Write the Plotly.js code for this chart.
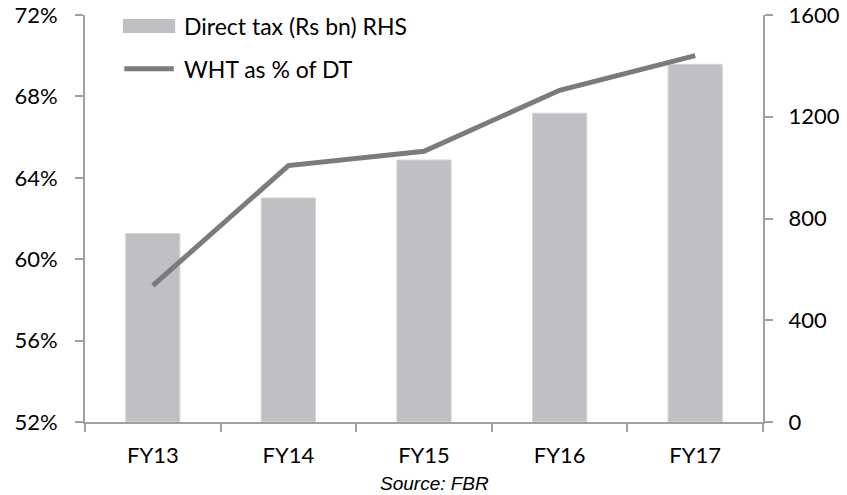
<!DOCTYPE html>
<html>
<head>
<meta charset="utf-8">
<script src="https://cdn.plot.ly/plotly-3.0.1.min.js"></script>
<style>html,body{margin:0;padding:0;background:#fff;}#chart{width:847px;height:495px;}</style>
</head>
<body>
<div id="chart"></div>
<script>
const categories = ['FY13', 'FY14', 'FY15', 'FY16', 'FY17'];
const directTax = [741, 881, 1030, 1214, 1406];
const whtShare = [58.7, 64.6, 65.3, 68.3, 70.0];
const leftTicks = [52, 56, 60, 64, 68, 72];
const rightTicks = [0, 400, 800, 1200, 1600];
const barName = 'Direct tax (Rs bn) RHS';
const lineName = 'WHT as % of DT';
const sourceText = 'Source: FBR';

const axisColor = '#a0a0a2';
const barColor = '#bfc0c3';
const lineColor = '#7a7b7e';
const font = {family: 'Lato, "Open Sans", sans-serif', size: 22, color: '#000'};

const traces = [
  {
    type: 'bar', x: categories, y: directTax, name: barName,
    marker: {color: barColor, line: {color: '#d4d5d7', width: 1}},
    width: 0.4, yaxis: 'y', showlegend: false, hoverinfo: 'skip'
  },
  {
    type: 'scatter', mode: 'lines', x: categories, y: whtShare, name: lineName,
    line: {color: lineColor, width: 5}, yaxis: 'y2', showlegend: false, hoverinfo: 'skip'
  }
];

const layout = {
  width: 847, height: 495,
  margin: {l: 85, r: 84, t: 15, b: 73},
  paper_bgcolor: '#fff', plot_bgcolor: '#fff',
  font: font,
  showlegend: false,
  xaxis: {
    type: 'category', tickson: 'boundaries', ticks: 'outside', ticklen: 8, tickwidth: 2,
    tickcolor: axisColor, showline: true, linecolor: axisColor, linewidth: 2,
    showgrid: false, zeroline: false, ticklabelstandoff: 13, tickfont: font
  },
  yaxis: {
    side: 'right', range: [0, 1600], tickmode: 'array', tickvals: rightTicks,
    ticktext: rightTicks.map(String), ticks: 'outside', ticklen: 8, tickwidth: 2,
    tickcolor: axisColor, showline: true, linecolor: axisColor, linewidth: 2,
    showgrid: false, zeroline: false, ticklabelstandoff: 11, tickfont: font
  },
  yaxis2: {
    side: 'left', overlaying: 'y', range: [52, 72], tickmode: 'array', tickvals: leftTicks,
    ticktext: leftTicks.map(v => v + '%'), ticks: 'outside', ticklen: 8, tickwidth: 2,
    tickcolor: axisColor, showline: true, linecolor: axisColor, linewidth: 2,
    showgrid: false, zeroline: false, ticklabelstandoff: 13, tickfont: font
  },
  shapes: [
    {type: 'rect', xref: 'paper', yref: 'paper', x0: 0.056, x1: 0.133, y0: 0.956, y1: 0.990,
     fillcolor: barColor, line: {width: 0}},
    {type: 'line', xref: 'paper', yref: 'paper', x0: 0.058, x1: 0.131, y0: 0.868, y1: 0.868,
     line: {color: lineColor, width: 5}}
  ],
  annotations: [
    {xref: 'paper', yref: 'paper', x: 0.143, y: 0.973, xanchor: 'left', yanchor: 'middle',
     text: barName, showarrow: false, font: {family: font.family, size: 23, color: '#000'}},
    {xref: 'paper', yref: 'paper', x: 0.143, y: 0.868, xanchor: 'left', yanchor: 'middle',
     text: lineName, showarrow: false, font: {family: font.family, size: 23, color: '#000'}},
    {xref: 'paper', yref: 'paper', x: 0.516, y: -0.152, xanchor: 'center', yanchor: 'middle',
     text: sourceText, showarrow: false,
     font: {family: '"Liberation Sans", Arial, sans-serif', size: 19, color: '#000', style: 'italic'}}
  ]
};

Plotly.newPlot('chart', traces, layout, {displayModeBar: false, staticPlot: true});
</script>
</body>
</html>
